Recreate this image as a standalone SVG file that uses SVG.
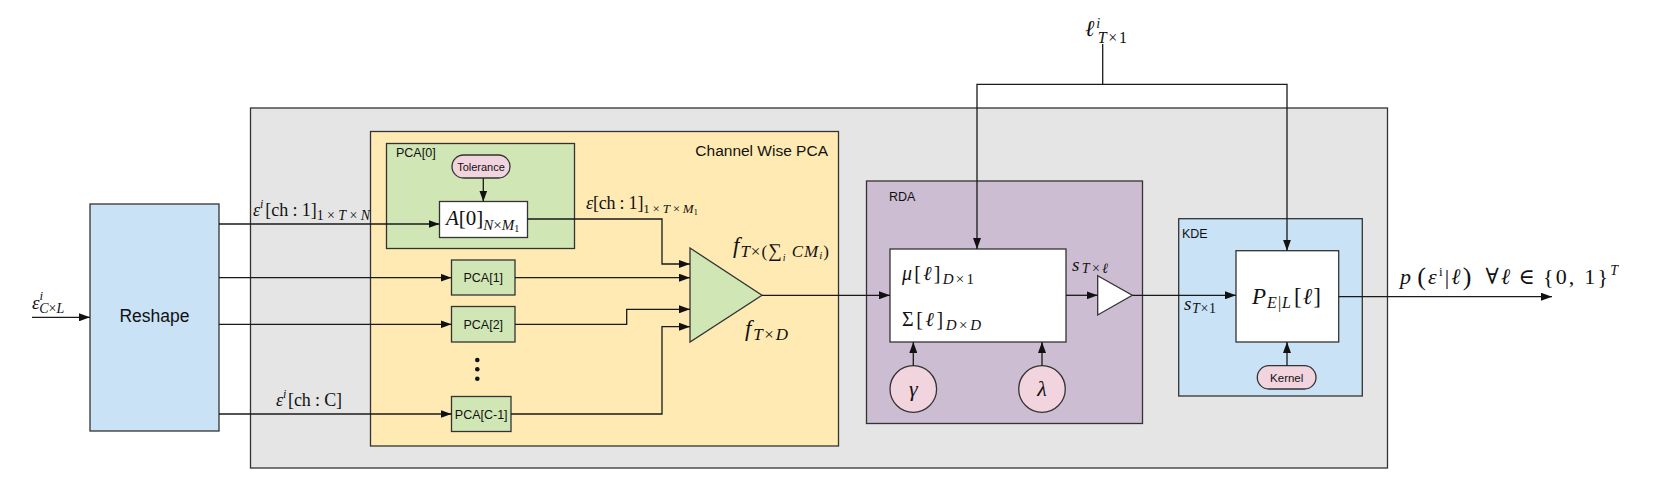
<svg xmlns="http://www.w3.org/2000/svg" width="1658" height="486" viewBox="0 0 1658 486">
<style>
.box{stroke:#333;stroke-width:1.3}
.ln{fill:none;stroke:#1a1a1a;stroke-width:1.3}
.arr{marker-end:url(#ah)}
.s{font-family:"Liberation Sans",Arial,sans-serif;fill:#111}
.m{font-family:"Liberation Serif","DejaVu Serif",serif;fill:#111}
.i{font-style:italic}
</style>
<defs>
<marker id="ah" markerUnits="userSpaceOnUse" markerWidth="11" markerHeight="8" refX="11" refY="4" orient="auto">
<path d="M0,0 L11,4 L0,8 z" fill="#111"/>
</marker>
</defs>
<rect width="1658" height="486" fill="#fff"/>

<g id="container">
<rect class="box" x="250.5" y="108" width="1137" height="360" fill="#e5e5e5"/>
</g>

<g id="reshape">
<rect class="box" x="90" y="204" width="129" height="227" fill="#c9e2f5"/>
<text class="s" x="154.5" y="322" font-size="17.5" text-anchor="middle">Reshape</text>
</g>

<g id="channel-wise-pca">
<rect class="box" x="370.5" y="131.5" width="468" height="314.5" fill="#ffeab3"/>
<text class="s" x="828" y="156" font-size="15.5" text-anchor="end">Channel Wise PCA</text>
</g>

<g id="pca0">
<rect class="box" x="386.5" y="143.5" width="188" height="105" fill="#d0e6b4"/>
<text class="s" x="396" y="157" font-size="12.5">PCA[0]</text>
</g>

<g id="tolerance">
<rect class="box" x="452" y="155" width="58" height="23" rx="11.5" fill="#f2d4de"/>
<text class="s" x="481" y="170.5" font-size="11" text-anchor="middle">Tolerance</text>
</g>

<g id="a0">
<rect class="box" x="439.5" y="201.5" width="88" height="36" fill="#fff"/>
<text class="m" x="446" y="225" font-size="21"><tspan class="i">A</tspan>[0]<tspan font-size="15" dy="5"><tspan class="i">N</tspan>×<tspan class="i">M</tspan></tspan><tspan font-size="10" dy="2">1</tspan></text>
</g>

<g id="pca1">
<rect class="box" x="451.5" y="260" width="63.5" height="35" fill="#d0e6b4"/>
<text class="s" x="483.3" y="282" font-size="12.5" text-anchor="middle">PCA[1]</text>
</g>

<g id="pca2">
<rect class="box" x="451.5" y="306.5" width="63.5" height="35.5" fill="#d0e6b4"/>
<text class="s" x="483.3" y="328.5" font-size="12.5" text-anchor="middle">PCA[2]</text>
</g>

<g id="dots" fill="#111">
<circle cx="477.3" cy="360" r="2.3"/>
<circle cx="477.3" cy="369.3" r="2.3"/>
<circle cx="477.3" cy="378.7" r="2.3"/>
</g>

<g id="pcac1">
<rect class="box" x="451.5" y="396.5" width="59.5" height="35" fill="#d0e6b4"/>
<text class="s" x="481.2" y="418.5" font-size="12.5" text-anchor="middle">PCA[C-1]</text>
</g>

<g id="concat">
<polygon class="box" points="690,248 762,295.3 690,342" fill="#d0e6b4"/>
</g>

<g id="rda">
<rect class="box" x="866.5" y="181" width="276" height="242.5" fill="#cdbdd2"/>
<text class="s" x="889" y="200.5" font-size="12.5">RDA</text>
</g>

<g id="mu-sigma">
<rect class="box" x="890" y="249" width="176" height="93" fill="#fff"/>
<text class="m" x="902" y="280" font-size="20" textLength="72" lengthAdjust="spacing"><tspan class="i">μ</tspan>[<tspan class="i">ℓ</tspan>]<tspan font-size="15" dy="4"><tspan class="i">D</tspan>×1</tspan></text>
<text class="m" x="902" y="326" font-size="20" textLength="79" lengthAdjust="spacing">Σ[<tspan class="i">ℓ</tspan>]<tspan font-size="15" dy="4"><tspan class="i">D</tspan>×<tspan class="i">D</tspan></tspan></text>
</g>

<g id="gamma">
<circle class="box" cx="913.3" cy="389" r="23.3" fill="#f2d4de"/>
<text class="m i" x="913.3" y="396" font-size="22" text-anchor="middle">γ</text>
</g>

<g id="lambda">
<circle class="box" cx="1042" cy="389" r="23.3" fill="#f2d4de"/>
<text class="m i" x="1042" y="396" font-size="22" text-anchor="middle">λ</text>
</g>

<g id="select">
<polygon class="box" points="1097.7,275.7 1132.3,295.3 1097.7,315" fill="#fff"/>
</g>

<g id="kde">
<rect class="box" x="1178.7" y="218.7" width="183.6" height="177.3" fill="#c9e2f5"/>
<text class="s" x="1182" y="237.5" font-size="12.5">KDE</text>
</g>

<g id="p-el">
<rect class="box" x="1236" y="250.7" width="102.7" height="91.3" fill="#fff"/>
<text class="m" x="1252" y="304" font-size="23" textLength="69" lengthAdjust="spacing"><tspan class="i">P</tspan><tspan font-size="16" dy="4"><tspan class="i">E</tspan>|<tspan class="i">L</tspan></tspan><tspan dy="-4" dx="2">[<tspan class="i">ℓ</tspan>]</tspan></text>
</g>

<g id="kernel">
<rect class="box" x="1257.3" y="365.7" width="58.7" height="23.3" rx="11.6" fill="#f2d4de"/>
<text class="s" x="1286.7" y="381.5" font-size="11.5" text-anchor="middle">Kernel</text>
</g>

<g id="connectors">
<path class="ln arr" d="M32,317.3 H90"/>
<path class="ln arr" d="M219,224 H439.5"/>
<path class="ln arr" d="M219,277.7 H451.5"/>
<path class="ln arr" d="M219,324.3 H451.5"/>
<path class="ln arr" d="M219,414 H451.5"/>
<path class="ln arr" d="M483.3,178.3 V201.5"/>
<path class="ln arr" d="M527.5,219 H662 V264 H690"/>
<path class="ln arr" d="M515,277.7 H690"/>
<path class="ln arr" d="M515,324.3 H626.7 V309.3 H690"/>
<path class="ln arr" d="M511,414 H662 V326.7 H690"/>
<path class="ln arr" d="M762,295.3 H890"/>
<path class="ln arr" d="M1102.7,44 V84.3 H977 V249"/>
<path class="ln arr" d="M1102.7,84.3 H1287 V250.7"/>
<path class="ln arr" d="M913.3,365.7 V342"/>
<path class="ln arr" d="M1042,365.7 V342"/>
<path class="ln arr" d="M1066,295.3 H1097.7"/>
<path class="ln arr" d="M1132.3,295.3 H1236"/>
<path class="ln arr" d="M1287,365.7 V342"/>
<path class="ln arr" d="M1338.7,296.7 H1552"/>
</g>

<g id="labels">
<text class="m" x="32" y="309" font-size="19"><tspan class="i">ε</tspan><tspan class="i" font-size="13" dy="-9">i</tspan><tspan font-size="14" dx="-4" dy="13"><tspan class="i">C</tspan>×<tspan class="i">L</tspan></tspan></text>
<text class="m" x="253" y="216" font-size="18" textLength="117" lengthAdjust="spacing"><tspan class="i">ε</tspan><tspan class="i" font-size="12" dy="-8">i</tspan><tspan dy="8" dx="2">[ch : 1]</tspan><tspan font-size="14" dy="4">1 × <tspan class="i">T</tspan> × <tspan class="i">N</tspan></tspan></text>
<text class="m" x="276" y="406" font-size="18" textLength="66" lengthAdjust="spacing"><tspan class="i">ε</tspan><tspan class="i" font-size="12" dy="-8">i</tspan><tspan dy="8" dx="2">[ch : C]</tspan></text>
<text class="m" x="586" y="209" font-size="18" textLength="112" lengthAdjust="spacing"><tspan class="i">ε</tspan>[ch : 1]<tspan font-size="13" dy="4">1 × <tspan class="i">T</tspan> × <tspan class="i">M</tspan></tspan><tspan font-size="9" dy="2">1</tspan></text>
<text class="m" x="733" y="253" font-size="23" textLength="96" lengthAdjust="spacing"><tspan class="i">f</tspan><tspan font-size="17" dy="4"><tspan class="i">T</tspan>×(</tspan><tspan font-size="19">∑</tspan><tspan class="i" font-size="10" dy="4">i</tspan><tspan font-size="17" dy="-4"> <tspan class="i">CM</tspan></tspan><tspan class="i" font-size="11" dy="2">i</tspan><tspan font-size="17" dy="-2">)</tspan></text>
<text class="m" x="745" y="336" font-size="23" textLength="43" lengthAdjust="spacing"><tspan class="i">f</tspan><tspan font-size="17" dy="4"><tspan class="i">T</tspan>×<tspan class="i">D</tspan></tspan></text>
<text class="m" x="1072" y="271" font-size="19" textLength="36" lengthAdjust="spacing"><tspan class="i">s</tspan><tspan font-size="14" dy="2"><tspan class="i">T</tspan>×<tspan class="i">ℓ</tspan></tspan></text>
<text class="m" x="1184" y="310" font-size="19" textLength="32" lengthAdjust="spacing"><tspan class="i">s</tspan><tspan font-size="14" dy="3"><tspan class="i">T</tspan>×1</tspan></text>
<text class="m" x="1085" y="36" font-size="23" textLength="42" lengthAdjust="spacing"><tspan class="i">ℓ</tspan><tspan class="i" font-size="14" dy="-8">i</tspan><tspan font-size="16" dx="-4" dy="15"><tspan class="i">T</tspan>×1</tspan></text>
<text class="m" x="1400" y="284" font-size="22" textLength="218" lengthAdjust="spacing"><tspan class="i">p</tspan><tspan font-size="26" dy="1" dx="4">(</tspan><tspan class="i" dy="-1">ε</tspan><tspan font-size="13" dy="-8">i</tspan><tspan dy="8">|<tspan class="i">ℓ</tspan></tspan><tspan font-size="26" dy="1">)</tspan><tspan dy="-1" dx="12">∀<tspan class="i">ℓ</tspan></tspan><tspan dx="6">∈</tspan><tspan dx="6">{0, 1}</tspan><tspan class="i" font-size="14" dy="-9">T</tspan></text>
</g>
</svg>
